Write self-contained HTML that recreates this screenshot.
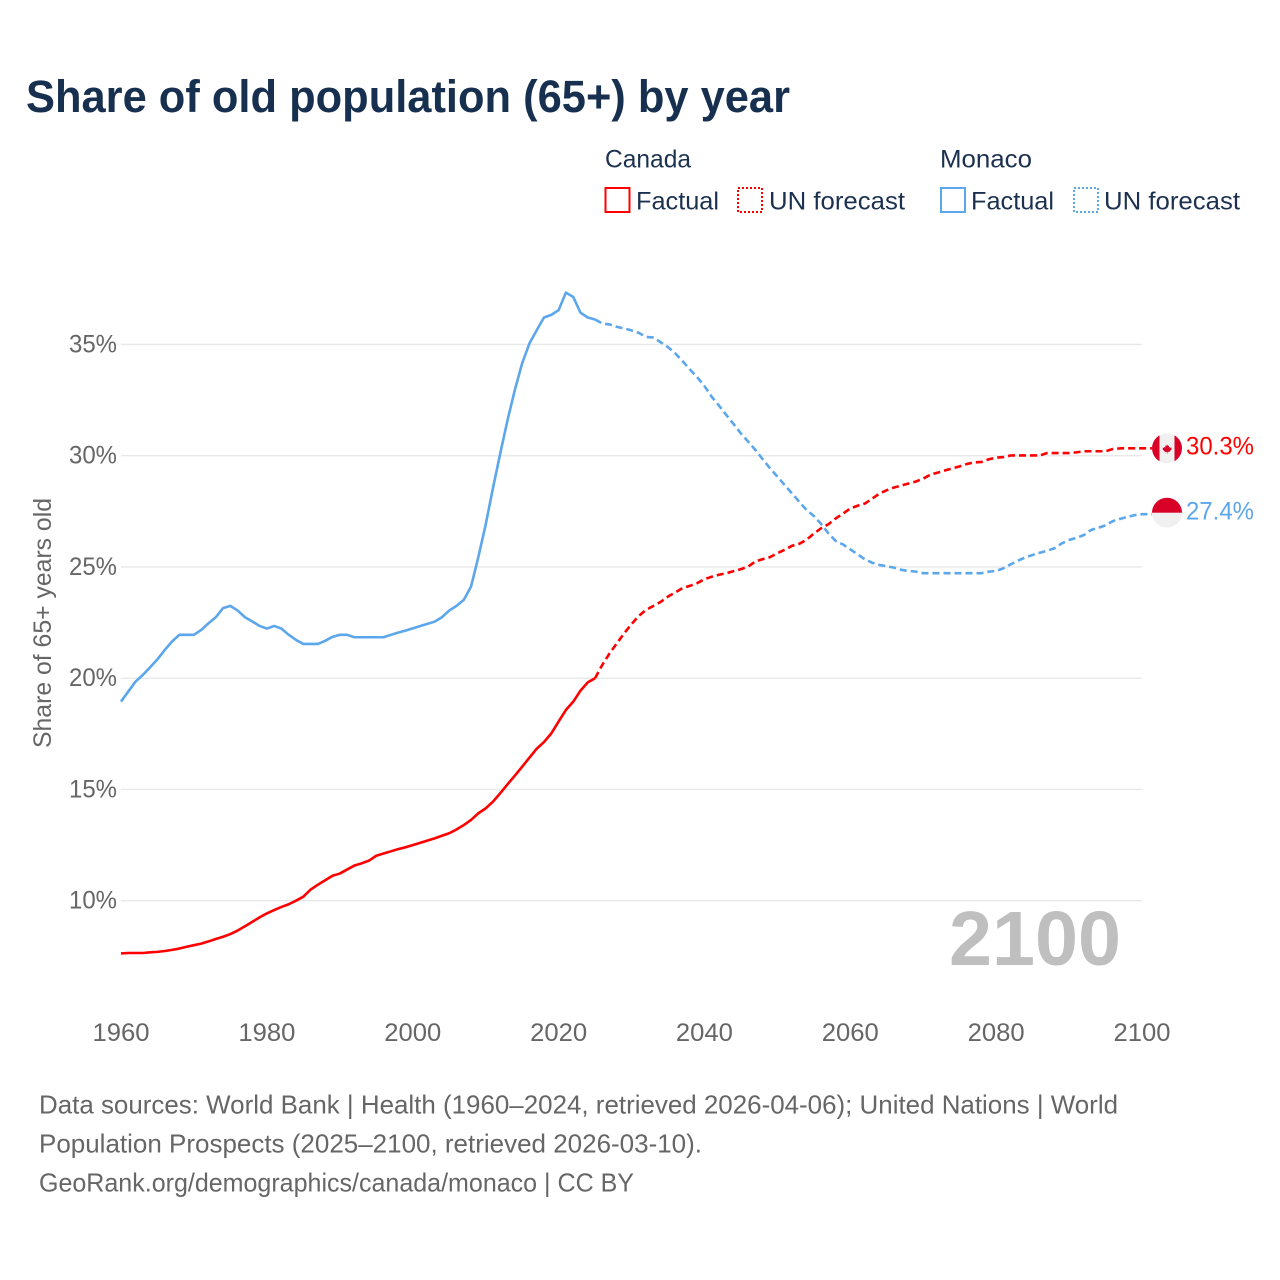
<!DOCTYPE html>
<html lang="en">
<head>
<meta charset="utf-8">
<title>Share of old population (65+) by year</title>
<style>
html,body{margin:0;padding:0;background:#fff;}
svg{display:block;font-family:"Liberation Sans",sans-serif;}
</style>
</head>
<body>
<svg id="chart" xmlns="http://www.w3.org/2000/svg" width="1280" height="1280" viewBox="0 0 1280 1280">
  <defs>
    <clipPath id="flag-clip-canada"><circle cx="1167" cy="448.3" r="15"/></clipPath>
    <clipPath id="flag-clip-monaco"><circle cx="1167" cy="512.7" r="15"/></clipPath>
  </defs>
  <rect x="0" y="0" width="1280" height="1280" fill="#ffffff"/>
  <text x="26" y="112" font-size="45" font-weight="700" fill="#18304f" textLength="764" lengthAdjust="spacingAndGlyphs">Share of old population (65+) by year</text>

  <g font-size="25" fill="#1c3150">
    <text x="605" y="167.5" textLength="86" lengthAdjust="spacingAndGlyphs">Canada</text>
    <rect x="605.5" y="188" width="24" height="24" fill="none" stroke="#ff0000" stroke-width="2"/>
    <text x="636" y="209.5" textLength="83" lengthAdjust="spacingAndGlyphs">Factual</text>
    <rect x="738" y="188" width="24" height="24" fill="none" stroke="#ff0000" stroke-width="2" stroke-dasharray="2 2"/>
    <text x="769" y="209.5" textLength="136" lengthAdjust="spacingAndGlyphs">UN forecast</text>
    <text x="940" y="167.5" textLength="92" lengthAdjust="spacingAndGlyphs">Monaco</text>
    <rect x="941" y="188" width="24" height="24" fill="none" stroke="#5ca6ec" stroke-width="2"/>
    <text x="971" y="209.5" textLength="83" lengthAdjust="spacingAndGlyphs">Factual</text>
    <rect x="1074" y="188" width="24" height="24" fill="none" stroke="#5ca6ec" stroke-width="2" stroke-dasharray="2 2"/>
    <text x="1104" y="209.5" textLength="136" lengthAdjust="spacingAndGlyphs">UN forecast</text>
  </g>

  <g id="grid"></g>
  <g id="y-ticks"></g>
  <g id="x-ticks"></g>
  <text transform="translate(51 623) rotate(-90)" text-anchor="middle" font-size="25" fill="#666666" textLength="250" lengthAdjust="spacingAndGlyphs">Share of 65+ years old</text>

  <text x="949" y="965" font-size="77" font-weight="700" fill="#bfbfbf" textLength="172" lengthAdjust="spacingAndGlyphs">2100</text>

  <g id="series"></g>

  <g clip-path="url(#flag-clip-canada)">
    <rect x="1150" y="431" width="34" height="34" fill="#f0f0f0"/>
    <rect x="1150" y="431" width="9.5" height="34" fill="#d80027"/>
    <rect x="1174.5" y="431" width="10" height="34" fill="#d80027"/>
    <path transform="translate(1167 449) scale(0.72) translate(-1167 -450)" d="M1167 443.5l1.4 2.4 1.6-.8-.5 3 1.6-1 .5 1.3 2-.3-.7 2.1.8.5-3.2 2.4.4 1.2-3.2-.4v2.2h-1v-2.2l-3.2.4.4-1.2-3.2-2.4.8-.5-.7-2.1 2 .3.5-1.3 1.6 1-.5-3 1.6.8z" fill="#d80027"/>
  </g>
  <g clip-path="url(#flag-clip-monaco)">
    <rect x="1150" y="512.7" width="34" height="17" fill="#f0f0f0"/>
    <rect x="1150" y="495" width="34" height="17.7" fill="#d80027"/>
  </g>
  <text id="label-canada" x="1186" y="454.5" font-size="25" fill="#ff0000" textLength="68" lengthAdjust="spacingAndGlyphs"></text>
  <text id="label-monaco" x="1186" y="519.5" font-size="25" fill="#5ca6ec" textLength="68" lengthAdjust="spacingAndGlyphs"></text>

  <g font-size="26" fill="#666666">
    <text x="39" y="1113.5" textLength="1079" lengthAdjust="spacingAndGlyphs">Data sources: World Bank | Health (1960–2024, retrieved 2026-04-06); United Nations | World</text>
    <text x="39" y="1152.5" textLength="663" lengthAdjust="spacingAndGlyphs">Population Prospects (2025–2100, retrieved 2026-03-10).</text>
    <text x="39" y="1191.5" textLength="595" lengthAdjust="spacingAndGlyphs">GeoRank.org/demographics/canada/monaco | CC BY</text>
  </g>
</svg>
<script>
const firstYear = 1960;
const lastFactualYear = 2025;
const yTickValues = [10, 15, 20, 25, 30, 35];
const yTickLabels = ["10%", "15%", "20%", "25%", "30%", "35%"];
const xTickValues = [1960, 1980, 2000, 2020, 2040, 2060, 2080, 2100];
const xTickLabels = ["1960", "1980", "2000", "2020", "2040", "2060", "2080", "2100"];
const canadaEndLabel = "30.3%";
const monacoEndLabel = "27.4%";
const canadaValues = [
  7.63,7.65,7.65,7.65,7.68,7.7,7.74,7.79,7.85,7.93,8.0,8.07,8.17,8.28,8.38,8.5,8.66,8.85,9.05,9.25,
  9.43,9.58,9.72,9.84,10.0,10.18,10.5,10.72,10.92,11.12,11.22,11.4,11.58,11.68,11.8,12.02,12.12,12.22,12.32,12.4,
  12.5,12.6,12.7,12.8,12.92,13.03,13.2,13.4,13.63,13.93,14.15,14.45,14.83,15.23,15.62,16.02,16.43,16.83,17.13,17.52,
  18.05,18.57,18.94,19.44,19.81,20.0,20.6,21.12,21.57,22.02,22.43,22.8,23.07,23.25,23.43,23.67,23.85,24.05,24.15,24.27,
  24.45,24.56,24.65,24.72,24.81,24.9,25.02,25.25,25.35,25.44,25.62,25.77,25.95,26.04,26.22,26.5,26.74,26.92,27.18,27.4,
  27.63,27.75,27.85,28.07,28.3,28.45,28.57,28.66,28.75,28.84,28.97,29.15,29.24,29.34,29.43,29.52,29.63,29.7,29.72,29.84,
  29.91,29.94,30.01,30.01,30.01,30.01,30.01,30.12,30.12,30.12,30.12,30.15,30.2,30.2,30.2,30.2,30.3,30.33,30.33,30.33,30.33
];
const monacoValues = [
  18.95,19.4,19.85,20.15,20.49,20.85,21.27,21.65,21.95,21.95,21.95,22.17,22.47,22.74,23.15,23.25,23.04,22.74,22.55,22.35,
  22.23,22.35,22.23,21.95,21.72,21.54,21.54,21.54,21.68,21.86,21.95,21.95,21.84,21.84,21.84,21.84,21.84,21.95,22.05,22.14,
  22.24,22.34,22.44,22.54,22.74,23.04,23.25,23.52,24.12,25.45,26.9,28.54,30.1,31.6,32.95,34.15,35.04,35.64,36.21,36.33,
  36.54,37.33,37.14,36.43,36.21,36.12,35.94,35.9,35.79,35.72,35.63,35.52,35.34,35.31,35.1,34.88,34.6,34.25,33.88,33.53,
  33.13,32.65,32.25,31.83,31.42,31.0,30.63,30.25,29.84,29.43,29.06,28.68,28.31,27.93,27.56,27.29,26.93,26.51,26.17,26.01,
  25.79,25.57,25.34,25.19,25.09,25.03,24.97,24.87,24.82,24.79,24.72,24.72,24.72,24.72,24.72,24.72,24.72,24.72,24.72,24.79,
  24.82,24.94,25.12,25.28,25.43,25.54,25.64,25.73,25.84,26.06,26.21,26.31,26.43,26.66,26.76,26.87,27.06,27.16,27.25,27.33,27.37
];

const NS = "http://www.w3.org/2000/svg";
function xScale(year) { return 121 + (year - 1960) * 7.293; }
function yScale(value) { return 900.7 - (value - 10) * 22.25; }
function make(tag, attrs, parent) {
  const el = document.createElementNS(NS, tag);
  for (const k in attrs) el.setAttribute(k, attrs[k]);
  parent.appendChild(el);
  return el;
}
const gridGroup = document.getElementById("grid");
const yTickGroup = document.getElementById("y-ticks");
const xTickGroup = document.getElementById("x-ticks");
const seriesGroup = document.getElementById("series");

yTickValues.forEach(function (v, i) {
  const line = make("line", {x1: 121, x2: 1142, y1: yScale(v), y2: yScale(v), stroke: "#e8e8e8", "stroke-width": 1.4}, gridGroup);
  
  
  const label = make("text", {x: 117, y: yScale(v) + 8, "text-anchor": "end", "font-size": 25, fill: "#666666", textLength: 48, lengthAdjust: "spacingAndGlyphs"}, yTickGroup);
  label.textContent = yTickLabels[i];
  
  
});

xTickValues.forEach(function (yr, i) {
  const label = make("text", {x: xScale(yr), y: 1041, "text-anchor": "middle", "font-size": 25, fill: "#666666", textLength: 57, lengthAdjust: "spacingAndGlyphs"}, xTickGroup);
  label.textContent = xTickLabels[i];
  
  
});

function pointsFor(values, fromYear, toYear) {
  const pts = [];
  values.forEach(function (v, i) {
    const yr = firstYear + i;
    if (yr >= fromYear && yr <= toYear) pts.push(xScale(yr).toFixed(2) + "," + yScale(v).toFixed(2));
  });
  return pts;
}
function lastYear(values) { return firstYear + values.length - 1; }

function drawFactual(values, color) {
  return make("polyline", {points: pointsFor(values, firstYear, lastFactualYear).join(" "), fill: "none", stroke: color, "stroke-width": 2.6, "stroke-linejoin": "round"}, seriesGroup);
}
function drawForecast(values, color) {
  const pts = pointsFor(values, lastFactualYear, lastYear(values));
  pts.push("1152," + yScale(values[values.length - 1]).toFixed(2));
  return make("polyline", {points: pts.join(" "), fill: "none", stroke: color, "stroke-width": 2.6, "stroke-dasharray": "7 4", "stroke-linejoin": "round"}, seriesGroup);
}

const monacoForecastLine = drawForecast(monacoValues, "#5ca6ec");


const monacoFactualLine = drawFactual(monacoValues, "#5ca6ec");


const canadaForecastLine = drawForecast(canadaValues, "#ff0000");


const canadaFactualLine = drawFactual(canadaValues, "#ff0000");



document.getElementById("label-canada").textContent = canadaEndLabel;
document.getElementById("label-monaco").textContent = monacoEndLabel;
</script>
</body>
</html>
